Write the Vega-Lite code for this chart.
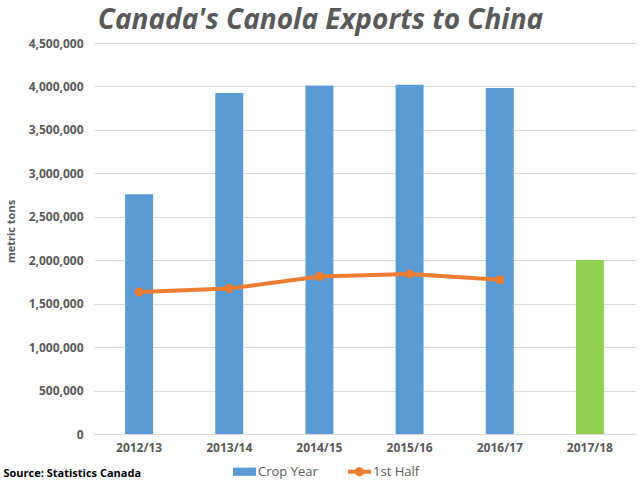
{
  "$schema": "https://vega.github.io/schema/vega-lite/v6.json",
  "autosize": {"type": "none"},
  "width": 541,
  "height": 391,
  "padding": {"left": 94, "top": 43, "right": 5, "bottom": 46},
  "background": "white",
  "title": {
    "text": "Canada's Canola Exports to China",
    "anchor": "middle",
    "frame": "group",
    "baseline": "alphabetic",
    "offset": 11,
    "dx": -44,
    "dy": 31,
    "font": "Open Sans",
    "fontSize": 28,
    "fontWeight": "bold",
    "fontStyle": "italic",
    "color": "#595959"
  },
  "config": {
    "view": {"stroke": null},
    "font": "Open Sans"
  },
  "data": {
    "values": [
      {"year": "2012/13", "crop": 2760000, "half": 1635000, "series": "Crop Year"},
      {"year": "2013/14", "crop": 3924000, "half": 1674000, "series": "Crop Year"},
      {"year": "2014/15", "crop": 4012000, "half": 1813000, "series": "Crop Year"},
      {"year": "2015/16", "crop": 4020000, "half": 1842000, "series": "Crop Year"},
      {"year": "2016/17", "crop": 3982000, "half": 1775000, "series": "Crop Year"},
      {"year": "2017/18", "crop": 2003000, "half": null, "series": "Partial"}
    ]
  },
  "encoding": {
    "x": {
      "field": "year",
      "type": "nominal",
      "sort": null,
      "scale": {"paddingInner": 0.69, "paddingOuter": 0.345},
      "axis": {
        "title": "Source: Statistics Canada",
        "titleX": -91,
        "titleY": 39,
        "titleAlign": "left",
        "titleBaseline": "middle",
        "titleFontSize": 11,
        "titleFontWeight": "bold",
        "titleColor": "#000000",
        "labelAngle": 0,
        "labelFontSize": 12,
        "labelFontWeight": "bold",
        "labelColor": "#595959",
        "labelPadding": 8,
        "ticks": false,
        "domainColor": "#D9D9D9",
        "domainWidth": 1,
        "grid": false
      }
    }
  },
  "layer": [
    {
      "mark": {"type": "bar"},
      "encoding": {
        "y": {
          "field": "crop",
          "type": "quantitative",
          "scale": {"domain": [0, 4500000]},
          "axis": {
            "title": "metric tons",
            "titleX": -83,
            "titleY": 188,
            "titleAlign": "center",
            "titleBaseline": "middle",
            "titleFontSize": 11,
            "titleFontWeight": "bold",
            "titleColor": "#595959",
            "values": [0, 500000, 1000000, 1500000, 2000000, 2500000, 3000000, 3500000, 4000000, 4500000],
            "format": ",d",
            "labelFontSize": 12,
            "labelFontWeight": "bold",
            "labelColor": "#595959",
            "labelPadding": 11,
            "ticks": false,
            "domain": false,
            "gridColor": "#D9D9D9",
            "gridWidth": 1
          }
        },
        "color": {
          "field": "series",
          "type": "nominal",
          "scale": {"domain": ["Crop Year", "1st Half", "Partial"], "range": ["#5B9BD5", "#ED7D31", "#92D050"]},
          "legend": {
            "orient": "none",
            "direction": "horizontal",
            "legendX": 139,
            "legendY": 417,
            "padding": 0,
            "title": null,
            "values": ["Crop Year", "1st Half"],
            "symbolSize": 529,
            "labelFontSize": 13,
            "labelColor": "#595959",
            "labelOffset": 2,
            "columnPadding": 30,
            "encode": {
              "symbols": {
                "update": {
                  "shape": {"signal": "datum.value === 'Crop Year' ? 'M-1,-0.36L1,-0.36L1,0.36L-1,0.36Z' : 'M-1,-0.17L1,-0.17L1,0.17L-1,0.17Z M-0.4,0A0.4,0.4 0 1,1 0.4,0A0.4,0.4 0 1,1 -0.4,0Z'"},
                  "fill": {"signal": "datum.value === 'Crop Year' ? '#5B9BD5' : '#ED7D31'"},
                  "stroke": {"value": "transparent"},
                  "strokeWidth": {"value": 0},
                  "opacity": {"value": 1},
                  "fillOpacity": {"value": 1}
                }
              }
            }
          }
        }
      }
    },
    {
      "transform": [{"filter": "datum.half != null"}],
      "mark": {"type": "line", "strokeWidth": 4, "point": {"filled": true, "size": 80, "opacity": 1}},
      "encoding": {
        "y": {"field": "half", "type": "quantitative"},
        "color": {"datum": "1st Half", "type": "nominal"}
      }
    }
  ]
}
